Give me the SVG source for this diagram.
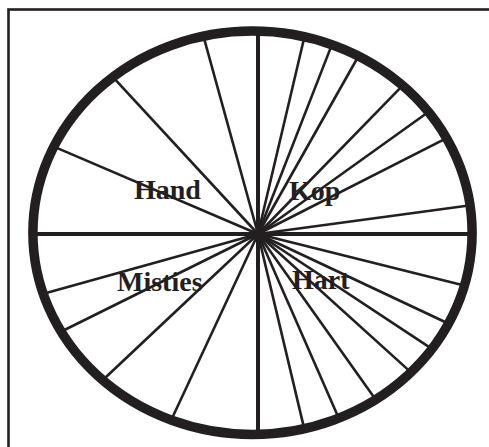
<svg xmlns="http://www.w3.org/2000/svg" width="489" height="447" viewBox="0 0 489 447">
<style>
.frame{fill:none;stroke:#231f20;stroke-width:2.6}
.rim{fill:none;stroke:#231f20;stroke-width:9.5}
.spoke{stroke:#231f20;stroke-width:2.6;stroke-linecap:butt}
.axis{stroke:#231f20;stroke-width:4}
.lbl{font-family:"Liberation Serif","Times New Roman",serif;font-weight:bold;font-size:28px;fill:#231f20}
</style>
<rect width="489" height="447" fill="#ffffff"/>
<rect class="frame" x="8.5" y="9.5" width="520" height="520"/>
<g id="connectors">
<line class="spoke" x1="258" y1="234" x2="203.9" y2="37.8"/>
<line class="spoke" x1="258" y1="234" x2="114.6" y2="78.8"/>
<line class="spoke" x1="258" y1="234" x2="55.6" y2="147.4"/>
<line class="spoke" x1="258" y1="234" x2="304.2" y2="37.8"/>
<line class="spoke" x1="258" y1="234" x2="331.5" y2="45.6"/>
<line class="spoke" x1="258" y1="234" x2="357.7" y2="57.5"/>
<line class="spoke" x1="258" y1="234" x2="401.8" y2="86.4"/>
<line class="spoke" x1="258" y1="234" x2="427.3" y2="112.7"/>
<line class="spoke" x1="258" y1="234" x2="446.6" y2="138.2"/>
<line class="spoke" x1="258" y1="234" x2="470.7" y2="205.2"/>
<line class="spoke" x1="258" y1="234" x2="44.4" y2="293.4"/>
<line class="spoke" x1="258" y1="234" x2="61.4" y2="331.5"/>
<line class="spoke" x1="258" y1="234" x2="103.1" y2="379.7"/>
<line class="spoke" x1="258" y1="234" x2="171.6" y2="419.3"/>
<line class="spoke" x1="258" y1="234" x2="465.2" y2="285.7"/>
<line class="spoke" x1="258" y1="234" x2="449.3" y2="324"/>
<line class="spoke" x1="258" y1="234" x2="432.3" y2="349.2"/>
<line class="spoke" x1="258" y1="234" x2="411" y2="372.4"/>
<line class="spoke" x1="258" y1="234" x2="375.6" y2="399.6"/>
<line class="spoke" x1="258" y1="234" x2="338.9" y2="418.4"/>
<line class="spoke" x1="258" y1="234" x2="304.2" y2="428.6"/>
<line class="axis" x1="30" y1="234" x2="475" y2="234"/>
<line class="axis" x1="258" y1="28" x2="258" y2="438"/>
</g>
<g id="rim">
<ellipse class="rim" cx="252.5" cy="232.7" rx="219.6" ry="201.7"/>
</g>
<g id="hand"><text class="lbl" x="134" y="199">Hand</text></g>
<g id="kop"><text class="lbl" x="289" y="200">Kop</text></g>
<g id="misties"><text class="lbl" x="117" y="290.5">Misties</text></g>
<g id="hart"><text class="lbl" x="292" y="289">Hart</text></g>
</svg>
